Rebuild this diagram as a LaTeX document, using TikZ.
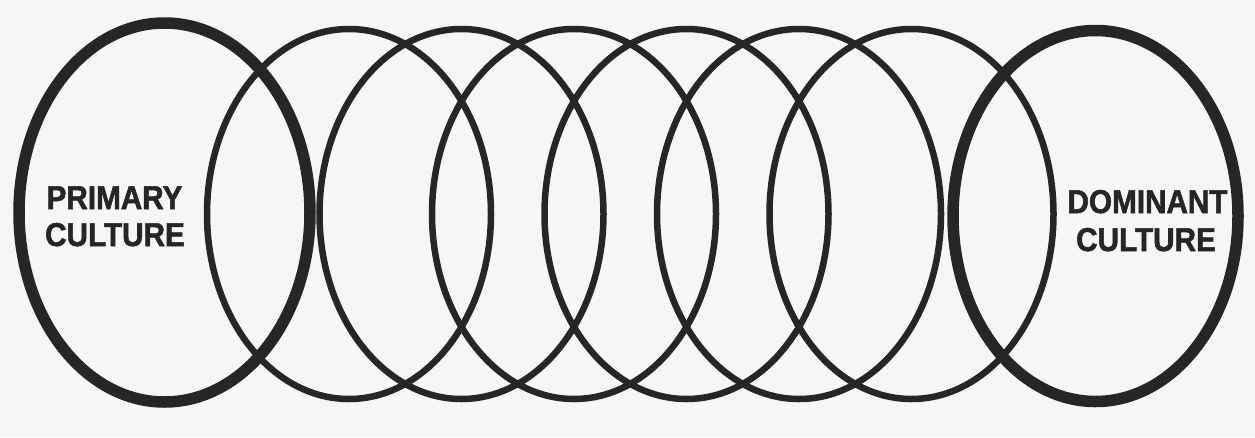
\documentclass[tikz,border=0pt]{standalone}
\usepackage{fontspec}
\setmainfont{Liberation Sans}[BoldFeatures={FakeBold=1.6,FakeStretch=0.9}]
\definecolor{ink}{HTML}{262626}
\definecolor{paper}{HTML}{F6F6F6}
\tikzset{
  thickring/.style={draw=ink, line width=11.5pt},
  thinring/.style={draw=ink, line width=6.5pt},
  lbl/.style={font=\bfseries\fontsize{33}{40}\selectfont, text=ink, inner sep=0pt, anchor=base}
}
\begin{document}
\begin{tikzpicture}[x=1pt,y=-1pt]
\fill[paper] (0,0) rectangle (1255,437);
\useasboundingbox (0,0) rectangle (1255,437);
% thin ellipses
\foreach \i in {0,...,5}{
  \coordinate (t\i) at ({349+112.5*\i},214);
  \draw[thinring] (t\i) ellipse [x radius=142, y radius=185];
}
% thick end ellipses
\coordinate (pc) at (164.5,212.5);
\coordinate (dc) at (1095.5,216);
\draw[thickring] (pc) ellipse [x radius=145.5, y radius=189.5];
\draw[thickring] (dc) ellipse [x radius=142.5, y radius=185.5];
% labels
\node[lbl] (p1) at (114.5,209) {PRIMARY};
\node[lbl] (p2) at (115,246) {CULTURE};
\node[lbl] (d1) at (1147.5,213) {DOMINANT};
\node[lbl] (d2) at (1146,251) {CULTURE};
\end{tikzpicture}
\end{document}
